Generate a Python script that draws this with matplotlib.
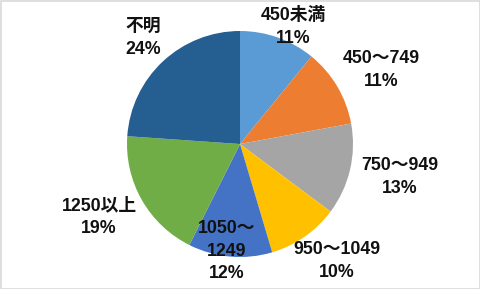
import matplotlib
matplotlib.use("Agg")
import matplotlib.pyplot as plt
from matplotlib.patches import Rectangle

categories = ["450未満", "450～749", "750～949", "950～1049", "1050～\n1249", "1250以上", "不明"]
values = [10.9, 11.2, 13.1, 10.2, 12.0, 18.7, 23.9]
colors = ["#5B9BD5", "#ED7D31", "#A5A5A5", "#FFC000", "#4472C4", "#70AD47", "#255E91"]

# label anchor positions (pixels in the 481x289 figure), layout only
label_px = [(293, 27), (381, 70), (400, 177), (337, 261), (227, 251), (99, 217), (143, 38)]

W, H = 481, 289
cx, cy, R = 240, 144, 113

fig = plt.figure(figsize=(W / 100, H / 100), dpi=100)
ax = fig.add_axes([0, 0, 1, 1])

ax.pie(values, colors=colors, startangle=90, counterclock=False, radius=1.0,
       center=(0, 0), wedgeprops=dict(linewidth=0), frame=True)
ax.set_xlim(-cx / R, (W - cx) / R)
ax.set_ylim(-(H - cy) / R, cy / R)
ax.set_aspect("auto")
ax.axis("off")

total = sum(values)
for name, v, (px, py) in zip(categories, values, label_px):
    pct = round(v / total * 100)
    ax.text((px - cx) / R, (cy - py) / R, f"{name}\n{pct}%", ha="center", va="center",
            fontsize=12.8, fontweight="bold", color="#111111", linespacing=1.45,
            family=["Liberation Sans", "Noto Sans CJK JP"])

fig.patches.append(Rectangle((0.5 / W, 0.5 / H), 1 - 1.5 / W, 1 - 1.5 / H, transform=fig.transFigure,
                             fill=False, edgecolor="#D9D9D9", linewidth=1.2))
fig.savefig("out.png", dpi=100, facecolor="white")
